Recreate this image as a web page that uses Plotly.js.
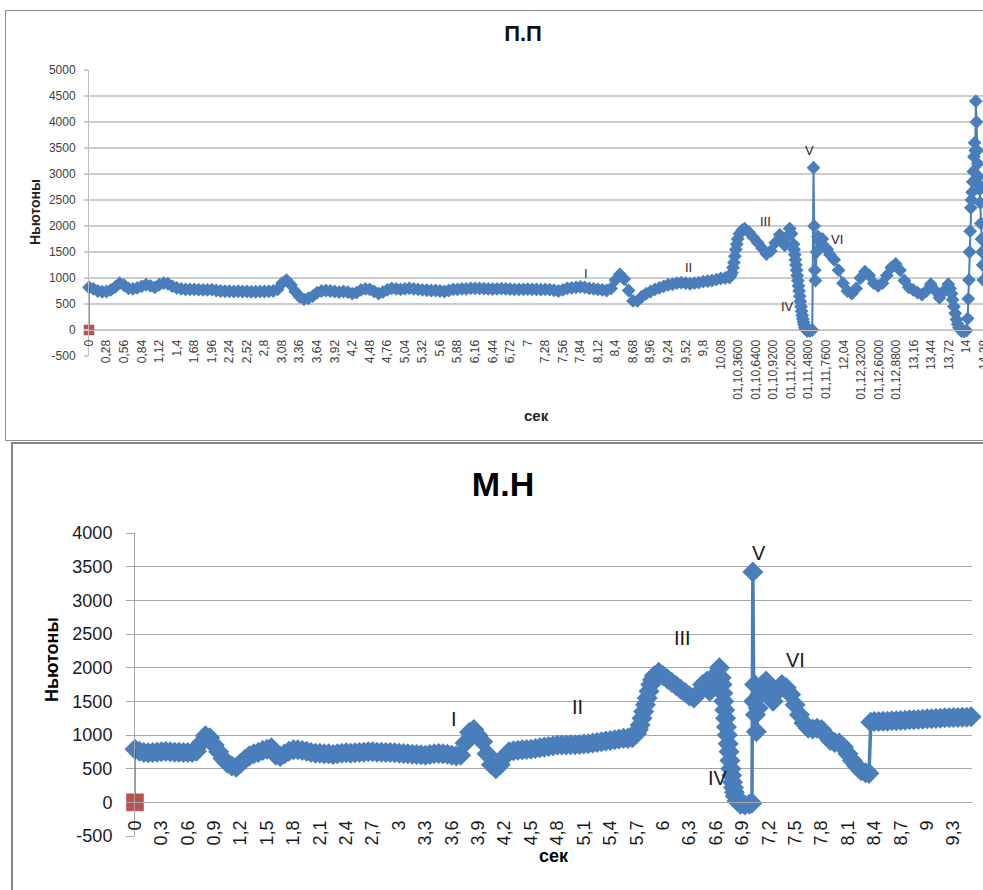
<!DOCTYPE html>
<html>
<head>
<meta charset="utf-8">
<script src="https://cdn.plot.ly/plotly-3.0.1.min.js"></script>
<style>
html, body { margin: 0; padding: 0; overflow: hidden; background: #fff; width: 983px; height: 890px; }
.frame { position: absolute; box-sizing: border-box; }
#frameTop { left: 5px; top: 10px; width: 1200px; height: 431px; border: 1.5px solid #8c8c8c; }
#frameBot { left: 11px; top: 442px; width: 1200px; height: 600px; border: 2px solid #858585; }
.plot { position: absolute; left: 0; }
#top { top: 0; width: 1100px; height: 440px; }
#bot { top: 440px; width: 1100px; height: 450px; }
</style>
</head>
<body>
<div id="frameTop" class="frame"></div>
<div id="frameBot" class="frame"></div>
<div id="top" class="plot"></div>
<div id="bot" class="plot"></div>
<script>
// ---------- П.П (top chart) ----------
const tTop = [
  0,0.07,0.14,0.21,0.28,0.35,0.42,0.49,0.56,0.63,0.70,0.77,0.84,0.91,0.98,1.05,1.12,1.19,1.26,1.33,1.40,1.47,1.54,1.61,1.68,1.75,1.82,1.89,1.96,2.03,2.10,2.17,2.24,2.31,2.38,2.45,2.52,2.59,2.66,2.73,2.80,2.87,2.94,3.01,
  3.08,3.15,3.22,3.29,3.36,3.43,3.50,3.57,3.64,3.71,3.78,3.85,3.92,3.99,4.06,4.13,4.20,4.27,4.34,4.41,4.48,4.55,4.62,4.69,4.76,4.83,4.90,4.97,5.04,5.11,5.18,5.25,5.32,5.39,5.46,5.53,5.60,5.67,5.74,5.81,5.88,5.95,6.02,6.09,6.16,6.23,6.30,6.37,6.44,6.51,6.58,6.65,6.72,6.79,6.86,6.93,7.00,7.07,7.14,7.21,7.28,7.35,7.42,7.49,7.56,7.63,7.70,7.77,7.84,7.91,7.98,8.05,8.12,8.19,8.26,8.33,8.40,8.47,8.54,8.61,8.68,8.75,8.82,8.89,8.96,9.03,9.10,9.17,9.24,9.31,9.38,9.45,9.52,9.59,9.66,9.73,9.80,9.87,9.94,10.01,10.08,10.15,10.22,
  10.24,10.26,10.275,10.29,10.305,10.32,10.335,10.35,10.38,10.42,10.46,10.53,10.60,10.67,10.74,10.81,10.88,10.95,11.02,11.06,11.10,11.14,11.18,11.21,11.24,11.25,11.26,11.27,11.28,11.29,11.30,11.31,11.32,11.33,11.34,11.35,11.36,11.37,11.38,11.39,11.40,11.41,11.42,11.44,11.46,11.50,11.54,11.56,11.57,11.58,11.59,11.61,11.63,11.66,11.70,11.74,11.78,11.82,11.89,11.96,12.03,12.10,12.17,12.24,12.31,12.38,12.45,12.52,12.59,12.66,12.73,12.80,12.87,12.94,13.01,13.08,13.15,13.22,13.29,13.36,13.43,13.50,13.57,13.64,13.71,13.74,13.76,13.78,13.80,13.82,13.84,13.86,13.88,13.92,13.96,14.00,14.02,14.03,14.04,14.05,14.06,14.07,14.08,14.09,14.10,14.11,14.12,14.13,14.14,14.15,14.16,14.17,14.18,14.19,14.20,14.21,14.22,14.23,14.24,14.25,14.26,14.27,14.29,14.33
];
const fTop = [
  820,790,750,735,740,770,830,900,860,800,790,810,840,870,850,820,870,900,890,840,810,790,780,780,780,775,770,770,775,760,750,745,745,740,745,740,740,735,735,740,740,745,750,780,
  900,960,870,740,640,590,610,650,720,750,760,750,740,730,740,730,700,720,770,790,780,740,700,730,770,800,790,780,790,800,790,780,770,765,760,760,750,740,760,780,780,790,790,800,800,800,795,790,785,790,795,790,785,780,780,780,785,780,780,775,780,775,765,750,770,800,810,820,830,820,800,790,780,770,760,800,960,1070,980,760,560,560,640,700,740,780,810,840,870,880,900,910,900,890,900,910,930,940,950,970,990,1000,1010,
  1050,1100,1200,1300,1420,1550,1650,1750,1850,1920,1950,1880,1780,1680,1570,1460,1520,1680,1830,1750,1630,1800,1950,1850,1650,1550,1450,1350,1250,1150,1050,950,850,750,650,550,450,360,280,210,150,100,50,10,-20,-20,0,3120,2000,1150,950,1500,1800,1700,1750,1600,1550,1450,1350,1150,900,750,700,800,1000,1120,1050,900,850,900,1050,1200,1270,1150,950,820,770,720,680,750,880,760,620,750,880,800,700,580,450,320,200,110,50,-20,-30,-10,220,600,960,1500,1900,2350,2500,2650,2850,3050,3330,3600,3450,4400,4000,3450,3200,2950,2800,2700,2450,2050,1750,1500,1250,960,780,760
];
const topTickVals = [0,0.28,0.56,0.84,1.12,1.4,1.68,1.96,2.24,2.52,2.8,3.08,3.36,3.64,3.92,4.2,4.48,4.76,5.04,5.32,5.6,5.88,6.16,6.44,6.72,7,7.28,7.56,7.84,8.12,8.4,8.68,8.96,9.24,9.52,9.8,10.08,10.36,10.64,10.92,11.2,11.48,11.76,12.04,12.32,12.6,12.88,13.16,13.44,13.72,14,14.28];
const topTickText = ["0","0,28","0,56","0,84","1,12","1,4","1,68","1,96","2,24","2,52","2,8","3,08","3,36","3,64","3,92","4,2","4,48","4,76","5,04","5,32","5,6","5,88","6,16","6,44","6,72","7","7,28","7,56","7,84","8,12","8,4","8,68","8,96","9,24","9,52","9,8","10,08","01,10,3600","01,10,6400","01,10,9200","01,11,2000","01,11,4800","01,11,7600","12,04","01,12,3200","01,12,6000","01,12,8800","13,16","13,44","13,72","14","14,28"];
const topYVals = [-500,0,500,1000,1500,2000,2500,3000,3500,4000,4500,5000];
const topYText = ["-500","0","500","1000","1500","2000","2500","3000","3500","4000","4500","5000"];

// ---------- М.Н (bottom chart) ----------
const tBot = [
  0,0.05,0.10,0.15,0.20,0.25,0.30,0.35,0.40,0.45,0.50,0.55,0.60,0.65,0.70,0.75,0.80,0.85,0.90,0.95,1.00,1.05,1.10,1.15,1.20,1.25,1.30,1.35,1.40,1.45,1.50,1.55,1.60,1.65,1.70,1.75,1.80,1.85,1.90,1.95,2.00,2.05,2.10,2.15,2.20,2.25,2.30,2.35,2.40,2.45,2.50,2.55,2.60,2.65,2.70,2.75,2.80,2.85,2.90,2.95,3.00,3.05,3.10,3.15,3.20,3.25,3.30,3.35,3.40,3.45,3.50,3.55,3.60,3.65,3.70,3.75,3.80,3.85,3.90,3.95,4.00,4.05,4.10,4.15,4.20,4.25,4.30,4.35,4.40,4.45,4.50,4.55,4.60,4.65,4.70,4.75,4.80,4.85,4.90,4.95,5.00,5.05,5.10,5.15,5.20,5.25,5.30,5.35,5.40,5.45,5.50,5.55,5.60,5.65,5.70,
  5.72,5.74,5.76,5.78,5.80,5.82,5.84,5.86,5.88,5.90,5.95,6.00,6.05,6.10,6.15,6.20,6.25,6.30,6.35,6.40,6.45,6.50,6.53,6.56,6.60,6.64,6.66,6.67,6.68,6.69,6.70,6.71,6.72,6.73,6.74,6.75,6.76,6.77,6.78,6.79,6.80,6.81,6.82,6.84,6.88,6.93,6.98,7.01,7.02,7.03,7.04,7.05,7.06,7.08,7.10,7.13,7.17,7.21,7.25,7.30,7.35,7.40,7.45,7.50,7.55,7.60,7.65,7.70,7.75,7.80,7.85,7.90,7.95,8.00,8.05,8.10,8.15,8.20,8.25,8.30,8.34,8.36,
  8.40,8.45,8.50,8.55,8.60,8.65,8.70,8.75,8.80,8.85,8.90,8.95,9.00,9.05,9.10,9.15,9.20,9.25,9.30,9.35,9.40,9.45,9.50
];
const fBot = [
  790,760,740,735,740,745,750,755,750,745,745,740,740,740,760,880,990,960,850,750,650,580,540,520,580,640,690,720,740,770,790,810,700,680,720,760,780,780,770,760,740,730,730,720,720,710,720,730,735,730,735,740,745,750,750,745,745,740,740,735,730,725,720,715,710,705,700,710,720,725,720,715,700,690,700,880,1040,1080,990,900,720,560,500,560,680,750,765,775,780,785,790,800,810,820,830,840,850,850,850,855,855,860,865,870,880,890,900,910,920,930,940,950,950,960,1020,
  1080,1150,1250,1350,1450,1550,1650,1750,1820,1880,1930,1880,1830,1780,1730,1680,1630,1580,1550,1620,1750,1800,1650,1750,1900,2000,1850,1750,1620,1500,1370,1250,1120,1000,870,750,620,500,400,300,220,150,90,20,-30,-40,-30,-10,3420,1500,1750,1300,1050,1400,1600,1750,1800,1650,1500,1650,1750,1700,1600,1450,1300,1180,1100,1090,1100,1080,1000,920,890,880,820,720,620,540,470,440,430,1190,
  1200,1200,1205,1205,1210,1210,1215,1220,1225,1225,1230,1235,1240,1240,1245,1250,1255,1255,1260,1260,1265,1265,1270
];
const botTickVals = [0,0.3,0.6,0.9,1.2,1.5,1.8,2.1,2.4,2.7,3,3.3,3.6,3.9,4.2,4.5,4.8,5.1,5.4,5.7,6,6.3,6.6,6.9,7.2,7.5,7.8,8.1,8.4,8.7,9,9.3];
const botTickText = ["0","0,3","0,6","0,9","1,2","1,5","1,8","2,1","2,4","2,7","3","3,3","3,6","3,9","4,2","4,5","4,8","5,1","5,4","5,7","6","6,3","6,6","6,9","7,2","7,5","7,8","8,1","8,4","8,7","9","9,3"];
const botYVals = [-500,0,500,1000,1500,2000,2500,3000,3500,4000];
const botYText = ["-500","0","500","1000","1500","2000","2500","3000","3500","4000"];

// second series (red square) shared by both charts
const redT = [0];
const redF = [0];

const phaseLabels = ["I","II","III","IV","V","VI"];

const FAM = "Liberation Sans, Arial, sans-serif";
const BLUE = "#4A7EBB";
const RED = "#C0504D";

function traces(t, f, mSize, mLine, lWidth, sqSize) {
  return [
    { x: t, y: f, type: "scatter", mode: "lines+markers", cliponaxis: false,
      line: { color: BLUE, width: lWidth },
      marker: { symbol: "diamond", size: mSize, color: BLUE, line: { color: BLUE, width: mLine } } },
    { x: [t[0], redT[0]], y: [f[0], redF[0]], type: "scatter", mode: "lines",
      line: { color: "#3a3a3a", width: 1 } },
    { x: redT, y: redF, type: "scatter", mode: "markers", cliponaxis: false,
      marker: { symbol: "square", size: sqSize, color: RED, line: { color: "#b04440", width: 0.5 } } }
  ];
}

// ----- top layout -----
const topPos = [[7.93,1096],[9.56,1211],[10.79,2096],[11.15,461],[11.49,3461],[11.94,1750]];
const layoutTop = {
  width: 1100, height: 440,
  margin: { l: 89, r: 116, t: 70, b: 84 },
  paper_bgcolor: "rgba(0,0,0,0)", plot_bgcolor: "#ffffff",
  showlegend: false,
  font: { family: FAM, color: "#404040" },
  title: { text: "<b>П.П</b>", font: { family: FAM, size: 22, color: "#111" },
           xref: "paper", x: 0.485, xanchor: "center", yref: "container", y: 0.925, yanchor: "middle" },
  xaxis: { range: [0, 14.28], anchor: "free", position: 500/5500,
           tickmode: "array", tickvals: topTickVals, ticktext: topTickText, tickangle: -90,
           tickfont: { family: FAM, size: 12, color: "#404040" }, ticklabelstandoff: 4,
           showgrid: false, zeroline: false, showline: true, linecolor: "#bfbfbf", linewidth: 1, ticks: "" },
  yaxis: { range: [-500, 5000], tickmode: "array", tickvals: topYVals, ticktext: topYText,
           showgrid: true, gridcolor: "#cccccc", gridwidth: 1.5, zeroline: false,
           showline: true, linecolor: "#bfbfbf", linewidth: 1,
           ticks: "outside", ticklen: 4, tickcolor: "#cccccc", tickwidth: 1.5,
           tickfont: { family: FAM, size: 12, color: "#404040" }, ticklabelstandoff: 6 },
  annotations: [
    { text: "<b>Ньютоны</b>", xref: "paper", yref: "paper", x: 0, y: 0.5035, xshift: -54,
      textangle: -90, showarrow: false, xanchor: "center", yanchor: "middle",
      font: { family: FAM, size: 14, color: "#262626" } },
    { text: "<b>сек</b>", xref: "paper", yref: "paper", x: 0.5, y: 0, yshift: -59,
      showarrow: false, xanchor: "center", yanchor: "middle",
      font: { family: FAM, size: 15, color: "#262626" } }
  ].concat(phaseLabels.map((s, i) => ({
      text: s, xref: "x", yref: "y", x: topPos[i][0], y: topPos[i][1], showarrow: false,
      xanchor: "center", yanchor: "middle", font: { family: FAM, size: 13, color: "#262626" } })))
};

// ----- bottom layout -----
const botPos = [[3.63,1245],[5.03,1409],[6.22,2436],[6.62,368],[7.09,3701],[7.50,2109]];
const layoutBot = {
  width: 1100, height: 450,
  margin: { l: 135, r: 128, t: 93, b: 54 },
  paper_bgcolor: "rgba(0,0,0,0)", plot_bgcolor: "#ffffff",
  showlegend: false,
  font: { family: FAM, color: "#1a1a1a" },
  title: { text: "<b>М.Н</b>", font: { family: FAM, size: 34, color: "#000" },
           xref: "paper", x: 0.4397, xanchor: "center", yref: "container", y: 0.901, yanchor: "middle" },
  xaxis: { range: [0, 9.51], anchor: "free", position: 500/4500,
           tickmode: "array", tickvals: botTickVals, ticktext: botTickText, tickangle: -90,
           tickfont: { family: FAM, size: 18, color: "#1a1a1a" }, ticklabelstandoff: 10,
           showgrid: false, zeroline: false, showline: true, linecolor: "#a6a6a6", linewidth: 1, ticks: "" },
  yaxis: { range: [-500, 4000], tickmode: "array", tickvals: botYVals, ticktext: botYText,
           showgrid: true, gridcolor: "#a6a6a6", gridwidth: 1, zeroline: false,
           showline: true, linecolor: "#a6a6a6", linewidth: 1,
           ticks: "outside", ticklen: 8, tickcolor: "#a6a6a6", tickwidth: 1,
           tickfont: { family: FAM, size: 18, color: "#1a1a1a" }, ticklabelstandoff: 10 },
  annotations: [
    { text: "<b>Ньютоны</b>", xref: "paper", yref: "paper", x: 0, y: 0.5827, xshift: -82.5,
      textangle: -90, showarrow: false, xanchor: "center", yanchor: "middle",
      font: { family: FAM, size: 18, color: "#000" } },
    { text: "<b>сек</b>", xref: "paper", yref: "paper", x: 0.5, y: 0, yshift: -20.3,
      showarrow: false, xanchor: "center", yanchor: "middle",
      font: { family: FAM, size: 18, color: "#000" } }
  ].concat(phaseLabels.map((s, i) => ({
      text: s, xref: "x", yref: "y", x: botPos[i][0], y: botPos[i][1], showarrow: false,
      xanchor: "center", yanchor: "middle", font: { family: FAM, size: 20, color: "#1a1a1a" } })))
};

Plotly.newPlot("top", traces(tTop, fTop, 9, 1.5, 2, 10), layoutTop, { staticPlot: true, displayModeBar: false });
Plotly.newPlot("bot", traces(tBot, fBot, 14, 2, 3.5, 17), layoutBot, { staticPlot: true, displayModeBar: false });
</script>
</body>
</html>
